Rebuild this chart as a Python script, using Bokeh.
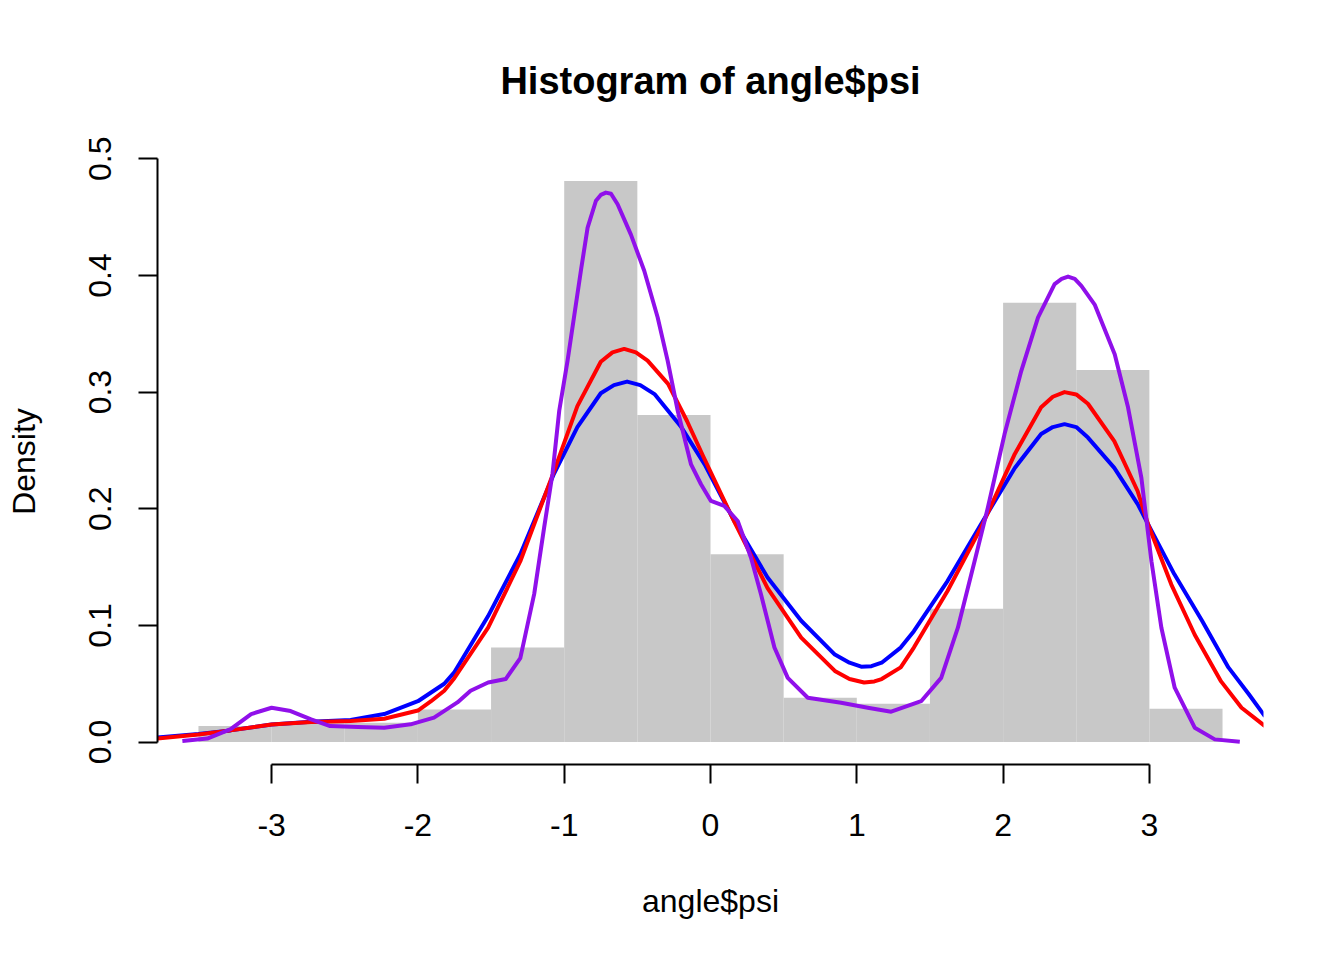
import math
from bokeh.plotting import figure
from bokeh.models import Range1d, LinearAxis, FixedTicker, NumeralTickFormatter
from bokeh.embed import file_html
from bokeh.resources import INLINE

# ---- data ----
hist_breaks = [-3.5, -3.0, -2.5, -2.0, -1.5, -1.0, -0.5, 0.0, 0.5, 1.0, 1.5, 2.0, 2.5, 3.0, 3.5]
hist_density = [0.0137, 0.0166, 0.0166, 0.028, 0.081, 0.481, 0.2804, 0.161,
                0.038, 0.0329, 0.1143, 0.3765, 0.319, 0.0286]

blue_x = [-3.78, -3.5, -3.28, -3.0, -2.73, -2.46, -2.23, -2.0, -1.82, -1.75, -1.52, -1.30,
          -1.07, -0.91, -0.75, -0.66, -0.57, -0.48, -0.38, -0.20, -0.04, 0.16, 0.39, 0.62,
          0.85, 0.95, 1.03, 1.10, 1.17, 1.30, 1.39, 1.62, 1.85, 2.08, 2.26, 2.34, 2.42, 2.50, 2.58,
          2.76, 2.92, 2.99, 3.17, 3.36, 3.54, 3.68, 3.79]
blue_y = [0.004, 0.007, 0.010, 0.015, 0.0175, 0.019, 0.024, 0.035, 0.050, 0.060, 0.108, 0.161,
          0.230, 0.270, 0.299, 0.306, 0.309, 0.306, 0.298, 0.270, 0.238, 0.190, 0.141, 0.104,
          0.075, 0.068, 0.0646, 0.065, 0.068, 0.081, 0.095, 0.138, 0.187, 0.235, 0.264, 0.270, 0.2725, 0.270, 0.261,
          0.235, 0.204, 0.187, 0.144, 0.104, 0.064, 0.041, 0.022]

red_x = [-3.78, -3.5, -3.28, -3.0, -2.73, -2.46, -2.23, -2.0, -1.91, -1.82, -1.75, -1.52, -1.30,
         -1.07, -0.91, -0.75, -0.67, -0.59, -0.51, -0.43, -0.29, -0.16, -0.05, 0.16, 0.39, 0.62,
         0.85, 0.95, 1.05, 1.12, 1.17, 1.30, 1.39, 1.62, 1.85, 2.08, 2.26, 2.34, 2.42, 2.50, 2.58, 2.76,
         2.92, 2.99, 3.15, 3.31, 3.49, 3.63, 3.79]
red_y = [0.003, 0.0065, 0.010, 0.015, 0.0172, 0.018, 0.020, 0.027, 0.035, 0.044, 0.055, 0.098, 0.155,
         0.232, 0.288, 0.326, 0.334, 0.337, 0.334, 0.327, 0.307, 0.275, 0.245, 0.1895, 0.132, 0.0895,
         0.061, 0.054, 0.051, 0.052, 0.054, 0.064, 0.081, 0.1295, 0.184, 0.247, 0.287, 0.296, 0.300, 0.298, 0.290, 0.258,
         0.215, 0.187, 0.135, 0.092, 0.052, 0.0294, 0.0137]

purple_x = [-3.61, -3.44, -3.28, -3.14, -3.0, -2.87, -2.73, -2.60, -2.41, -2.23, -2.05, -1.89,
            -1.73, -1.64, -1.52, -1.40, -1.30, -1.205, -1.137, -1.08, -1.034, -0.977, -0.886,
            -0.84, -0.783, -0.75, -0.715, -0.68, -0.635, -0.544, -0.453, -0.361, -0.293, -0.224, -0.133, -0.065,
            0.003, 0.094, 0.186, 0.277, 0.345, 0.437, 0.528, 0.665, 0.893, 1.075, 1.235, 1.44,
            1.577, 1.691, 1.805, 1.896, 2.01, 2.124, 2.239, 2.352, 2.40, 2.444, 2.49, 2.535, 2.626, 2.763,
            2.854, 2.945, 3.014, 3.082, 3.173, 3.31, 3.447, 3.618]
purple_y = [0.001, 0.003, 0.011, 0.024, 0.0294, 0.0266, 0.0195, 0.0137, 0.013, 0.0123, 0.0152, 0.021,
            0.034, 0.044, 0.051, 0.054, 0.072, 0.127, 0.184, 0.230, 0.284, 0.327, 0.404,
            0.441, 0.464, 0.469, 0.471, 0.470, 0.461, 0.435, 0.404, 0.364, 0.327, 0.284, 0.238, 0.221,
            0.2067, 0.2024, 0.1895, 0.158, 0.1267, 0.081, 0.055, 0.038, 0.0337, 0.0294, 0.026, 0.035,
            0.055, 0.098, 0.155, 0.201, 0.264, 0.318, 0.364, 0.3925, 0.397, 0.399, 0.397, 0.391, 0.375, 0.3325,
            0.287, 0.2267, 0.155, 0.098, 0.0466, 0.0123, 0.0023, 0.0003]

x_ticks = [-3, -2, -1, 0, 1, 2, 3]
y_ticks = [0.0, 0.1, 0.2, 0.3, 0.4, 0.5]

title_text = "Histogram of angle$psi"
x_label = "angle$psi"
y_label = "Density"

FONT = "Liberation Sans"

p = figure(width=1328, height=944, output_backend="svg", toolbar_location=None,
           x_range=Range1d(-3.78, 3.78), y_range=Range1d(-0.01924, 0.50024),
           x_axis_location=None, y_axis_location=None,
           min_border_left=157, min_border_right=65, min_border_top=158, min_border_bottom=180)
p.outline_line_color = None
p.background_fill_color = "white"
p.border_fill_color = "white"
p.xgrid.visible = False
p.ygrid.visible = False

p.title.text = title_text
p.title.text_font = FONT
p.title.text_font_style = "bold"
p.title.text_font_size = "38px"
p.title.align = "center"
p.title.text_color = "black"
p.title.standoff = 114

p.quad(left=hist_breaks[:-1], right=hist_breaks[1:], bottom=0, top=hist_density,
       fill_color="#C8C8C8", line_color=None)

p.line(blue_x, blue_y, line_color="#0000FF", line_width=4, line_join="round")
p.line(red_x, red_y, line_color="#FF0000", line_width=4, line_join="round")
p.line(purple_x, purple_y, line_color="#9010EA", line_width=4, line_join="round")


def style_axis(ax):
    ax.axis_line_color = "black"
    ax.axis_line_width = 2
    ax.major_tick_line_color = "black"
    ax.major_tick_line_width = 2
    ax.major_tick_out = 19
    ax.major_tick_in = 0
    ax.minor_tick_line_color = None
    ax.major_label_text_font = FONT
    ax.major_label_text_font_size = "32px"
    ax.major_label_text_color = "black"
    ax.axis_label_text_font = FONT
    ax.axis_label_text_font_size = "32px"
    ax.axis_label_text_font_style = "normal"
    ax.axis_label_text_color = "black"


xaxis = LinearAxis(ticker=FixedTicker(ticks=x_ticks), formatter=NumeralTickFormatter(format="0"),
                   bounds=(x_ticks[0], x_ticks[-1]), axis_label=x_label)
style_axis(xaxis)
xaxis.major_label_standoff = 30
xaxis.axis_label_standoff = 44
p.add_layout(xaxis, "below")

yaxis = LinearAxis(ticker=FixedTicker(ticks=y_ticks), formatter=NumeralTickFormatter(format="0.0"),
                   bounds=(y_ticks[0], y_ticks[-1]), axis_label=y_label)
style_axis(yaxis)
yaxis.major_label_orientation = "vertical"
yaxis.major_label_standoff = 27
yaxis.axis_label_standoff = 45
p.add_layout(yaxis, "left")

open("out.html", "w").write(file_html(p, INLINE))
